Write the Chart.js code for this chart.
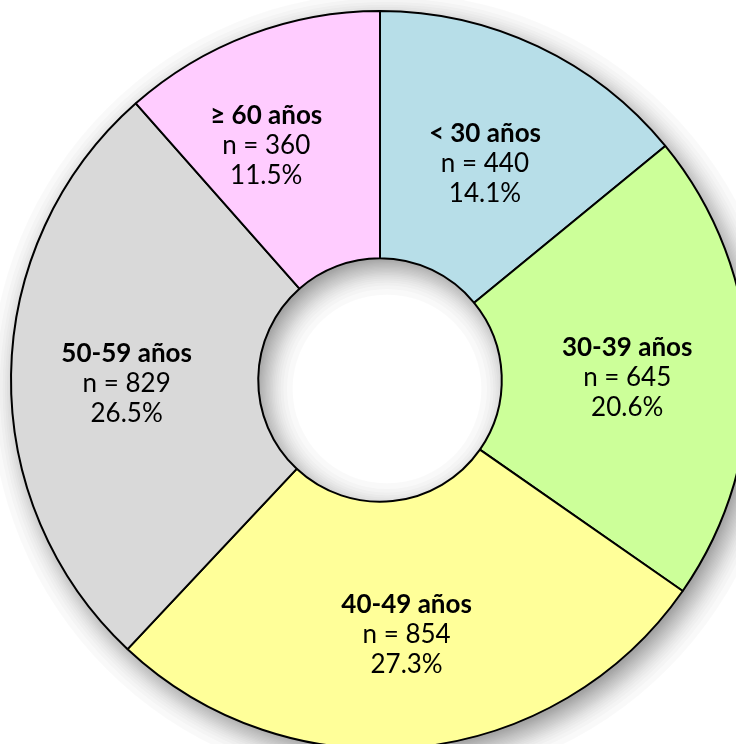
<!DOCTYPE html>
<html>
<head>
<meta charset="utf-8">
<script src="https://cdn.jsdelivr.net/npm/chart.js@4/dist/chart.umd.min.js"></script>
<style>
  html, body { margin: 0; padding: 0; background: #ffffff; overflow: hidden; }
  #wrap { position: absolute; left: 0; top: 0; width: 760px; height: 760px; }
</style>
</head>
<body>
<div id="wrap"><canvas id="chart" width="760" height="760"></canvas></div>
<script>
// Age groups, counts and shares
const categories = ['< 30 años', '30-39 años', '40-49 años', '50-59 años', '≥ 60 años'];
const counts = [440, 645, 854, 829, 360];
const percents = ['14.1%', '20.6%', '27.3%', '26.5%', '11.5%'];
const sliceColors = ['#b7dee8', '#ccff99', '#ffff99', '#d9d9d9', '#ffccff'];
// small nudges of each label block from the slice centre (px)
const labelNudge = [[0, 5], [2, 7], [1, 11], [-8, 7], [-27, -5]];

const FONT = 'Lato, "Open Sans", "DejaVu Sans", sans-serif';

// error function (Abramowitz & Stegun 7.1.26)
function erf(x) {
  const s = x < 0 ? -1 : 1;
  x = Math.abs(x);
  const t = 1 / (1 + 0.3275911 * x);
  const y = 1 - (((((1.061405429 * t - 1.453152027) * t) + 1.421413741) * t - 0.284496736) * t + 0.254829592) * t * Math.exp(-x * x);
  return s * y;
}

// soft drop shadow under the ring: a stack of equal-alpha annuli whose
// widths are chosen so the summed opacity follows a gaussian edge
const SHADOW = { dx: 7, dy: 9, sigma: 16, opacity: 0.58, layerAlpha: 0.025 };
function shadowSpreads() {
  const s = SHADOW.sigma * Math.SQRT2;
  const f = d => SHADOW.opacity * 0.5 * (1 - erf(d / s));
  const spreads = [];
  for (let j = 1; ; j++) {
    const target = 1 - Math.pow(1 - SHADOW.layerAlpha, j);
    if (target >= SHADOW.opacity) break;
    // f falls as d grows: bisection for f(d) = target
    let lo = -100, hi = 150;
    for (let it = 0; it < 50; it++) {
      const mid = (lo + hi) / 2;
      if (f(mid) > target) lo = mid; else hi = mid;
    }
    spreads.push((lo + hi) / 2);
  }
  return spreads;
}
const ringShadow = {
  id: 'ringShadow',
  beforeDatasetsDraw(chart) {
    const arc = chart.getDatasetMeta(0).data[0];
    if (!arc) return;
    const x = arc.x + SHADOW.dx, y = arc.y + SHADOW.dy;
    const R = arc.outerRadius, r = arc.innerRadius;
    const ctx = chart.ctx;
    ctx.save();
    ctx.fillStyle = 'rgba(0,0,0,' + SHADOW.layerAlpha + ')';
    shadowSpreads().forEach(k => {
      const outer = R + k, inner = r - k;
      if (outer <= inner) return;
      ctx.beginPath();
      ctx.arc(x, y, outer, 0, Math.PI * 2);
      if (inner > 0) ctx.arc(x, y, inner, 0, Math.PI * 2, true);
      ctx.closePath();
      ctx.fill('evenodd');
    });
    ctx.restore();
  }
};

// three-line labels inside each slice
const sliceLabels = {
  id: 'sliceLabels',
  afterDatasetsDraw(chart) {
    const ctx = chart.ctx;
    const meta = chart.getDatasetMeta(0);
    ctx.save();
    ctx.textAlign = 'center';
    ctx.textBaseline = 'middle';
    ctx.fillStyle = '#000000';
    meta.data.forEach((arc, i) => {
      const c = arc.getCenterPoint();
      const cx = c.x + labelNudge[i][0];
      const cy = c.y + labelNudge[i][1];
      const lh = 30;
      ctx.font = 'bold 26px ' + FONT;
      ctx.fillText(categories[i], cx, cy - lh);
      ctx.font = '26px ' + FONT;
      ctx.fillText('n = ' + counts[i], cx, cy);
      ctx.fillText(percents[i], cx, cy + lh);
    });
    ctx.restore();
  }
};

new Chart(document.getElementById('chart'), {
  type: 'doughnut',
  data: {
    labels: categories,
    datasets: [{
      data: counts,
      backgroundColor: sliceColors,
      borderColor: '#000000',
      borderWidth: 2,
      hoverOffset: 0
    }]
  },
  options: {
    responsive: false,
    animation: false,
    events: [],
    cutout: '33%',
    rotation: 0,
    layout: { padding: 10 },
    plugins: {
      legend: { display: false },
      tooltip: { enabled: false }
    }
  },
  plugins: [ringShadow, sliceLabels]
});
</script>
</body>
</html>
